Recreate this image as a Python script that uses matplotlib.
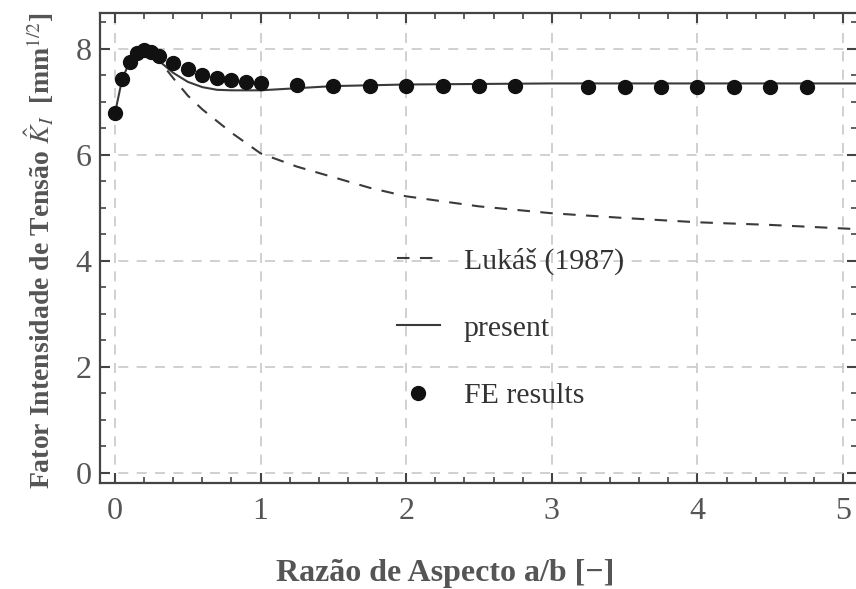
import matplotlib
matplotlib.use("Agg")
import matplotlib.pyplot as plt
from matplotlib.ticker import MultipleLocator

plt.rcParams['font.family'] = ['Liberation Serif', 'DejaVu Serif']
plt.rcParams['mathtext.fontset'] = 'stix'

# FE results
fe_x = [0.0, 0.05, 0.1, 0.15, 0.2, 0.25, 0.3, 0.4, 0.5, 0.6, 0.7, 0.8, 0.9, 1.0,
        1.25, 1.5, 1.75, 2.0, 2.25, 2.5, 2.75, 3.25, 3.5, 3.75, 4.0, 4.25, 4.5, 4.75]
fe_y = [6.79, 7.44, 7.76, 7.92, 7.98, 7.94, 7.87, 7.74, 7.62, 7.51, 7.45, 7.42, 7.38, 7.36,
        7.32, 7.31, 7.30, 7.30, 7.30, 7.30, 7.30, 7.29, 7.29, 7.29, 7.29, 7.29, 7.29, 7.29]

# present solution
present_x = [0.0, 0.05, 0.1, 0.15, 0.2, 0.25, 0.3, 0.4, 0.5, 0.6, 0.7, 0.8, 1.0,
             1.25, 1.5, 2.0, 3.0, 4.0, 5.1]
present_y = [6.79, 7.44, 7.75, 7.90, 7.95, 7.90, 7.78, 7.55, 7.38, 7.28, 7.23, 7.22, 7.22,
             7.26, 7.30, 7.33, 7.35, 7.35, 7.35]

# Lukáš (1987)
lukas_x = [0.25, 0.3, 0.4, 0.5, 0.6, 0.8, 1.0, 1.25, 1.5, 1.75, 2.0, 2.5, 3.0,
           3.5, 4.0, 4.5, 5.1]
lukas_y = [7.90, 7.80, 7.45, 7.12, 6.86, 6.42, 6.03, 5.78, 5.58, 5.38, 5.22, 5.03, 4.90,
           4.81, 4.73, 4.68, 4.60]

fig = plt.figure(figsize=(8.56, 5.89), dpi=100)
ax = fig.add_axes([0.1168, 0.180, 0.8844, 0.798])

line_col = '#3a3a3a'
l1, = ax.plot(lukas_x, lukas_y, color=line_col, lw=1.5, dashes=(6, 5), label='Lukáš (1987)')
l2, = ax.plot(present_x, present_y, color=line_col, lw=1.5, label='present')
l3, = ax.plot(fe_x, fe_y, 'o', color='#111111', ms=10, label='FE results')

ax.set_xlim(-0.103, 5.096)
ax.set_ylim(-0.19, 8.68)
ax.xaxis.set_major_locator(MultipleLocator(1))
ax.xaxis.set_minor_locator(MultipleLocator(0.2))
ax.yaxis.set_major_locator(MultipleLocator(2))
ax.yaxis.set_minor_locator(MultipleLocator(0.5))

ax.grid(True, which='major', color='#c8c8c8', lw=1.2, dashes=(6, 5))
ax.set_axisbelow(True)

for s in ax.spines.values():
    s.set_color('#444444')
    s.set_linewidth(1.6)

ax.tick_params(which='both', direction='in', top=True, right=True, color='#444444')
ax.tick_params(which='major', length=7, width=1.5, labelsize=23, labelcolor='#555555')
ax.tick_params(which='minor', length=4, width=1.2)
ax.tick_params(axis='x', which='major', pad=10)
ax.tick_params(axis='y', which='major', pad=6)

leg = ax.legend(handles=[l1, l2, l3], loc='upper left', bbox_to_anchor=(0.372, 0.533),
                frameon=False, fontsize=21.5, numpoints=1, handlelength=1.45,
                handletextpad=0.8, labelspacing=1.35, borderpad=0)
for t in leg.get_texts():
    t.set_color('#333333')

fig.text(0.52, 1 - 573 / 589, 'Razão de Aspecto a/b [−]', ha='center', va='center',
         fontsize=23, fontweight='bold', color='#555555')
fig.text(0.045, 1 - 251 / 589, r'Fator Intensidade de Tensão $\hat{K}_I$  [mm$^{1/2}$]',
         ha='center', va='center', rotation=90, fontsize=20, fontweight='bold',
         color='#555555')

fig.savefig('out.png', dpi=100)
